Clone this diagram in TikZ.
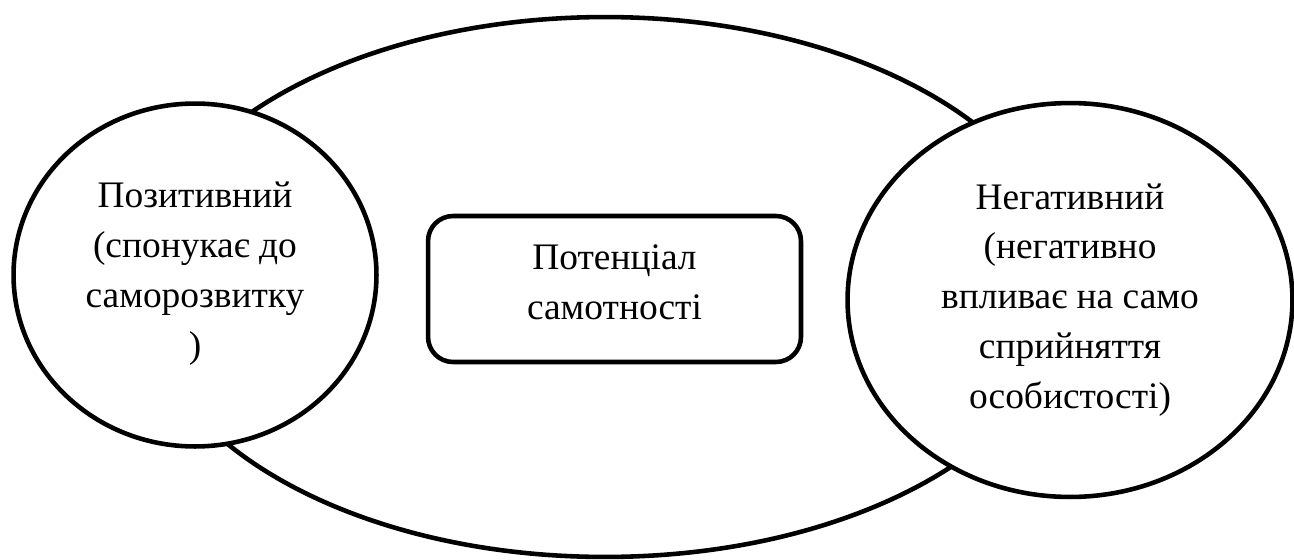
\documentclass[tikz,border=0pt]{standalone}
\usepackage{fontspec}
\setmainfont{Liberation Serif}
\usetikzlibrary{shapes.geometric,positioning}
\tikzset{
  outer/.style={draw,ellipse,line width=2.6pt,minimum width=18.56cm,minimum height=10.8cm,inner sep=0pt},
  side/.style={draw,ellipse,fill=white,line width=2.6pt,inner sep=0pt},
  core/.style={draw,fill=white,rounded corners=5mm,line width=2.6pt,minimum width=7.46cm,minimum height=2.92cm},
  txt/.style={align=center,inner sep=0pt,font=\fontsize{21.3pt}{28.4pt}\selectfont}
}

\begin{document}
\begin{tikzpicture}[x=0.02cm,y=0.02cm]
  \useasboundingbox (0,0) rectangle (1294,559);
  \node[outer] (whole) at (605,272) {};
  \node[side,minimum width=7.26cm,minimum height=6.86cm] (pos) at (195,284) {};
  \node[side,minimum width=8.9cm,minimum height=7.88cm] (neg) at (1070,259) {};
  \node[core] (pot) at (614.5,270) {};

  \node[txt] (posText) at ([yshift=0.03cm]pos.center)
    {Позитивний\\(спонукає до\\саморозвитку\\)};
  \node[txt] (negText) at (neg.center)
    {Негативний\\(негативно\\впливає на само\\сприйняття\\особистості)};
  \node[txt] (potText) at ([yshift=0.14cm]pot.center) {Потенціал\\самотності};
\end{tikzpicture}
\end{document}
